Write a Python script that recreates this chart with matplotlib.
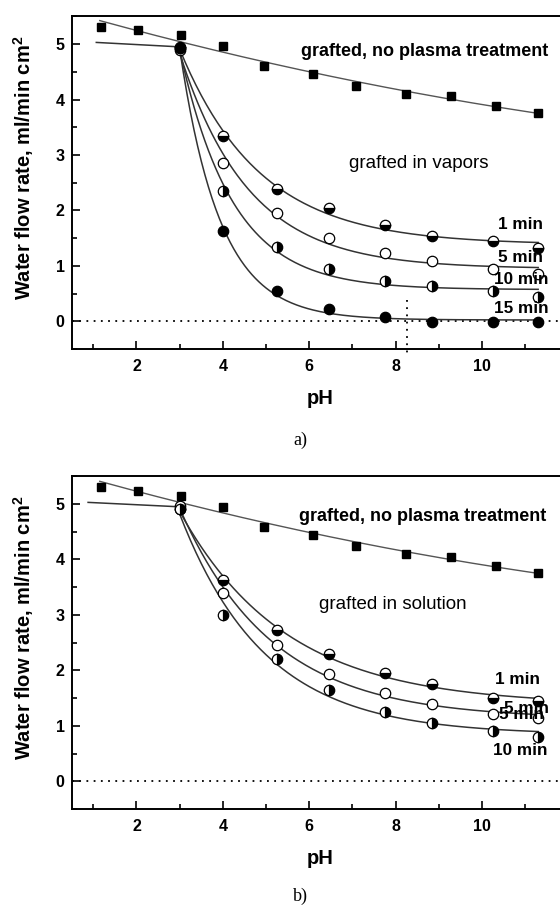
import numpy as np
import matplotlib
matplotlib.use("Agg")
import matplotlib.pyplot as plt

plt.rcParams['font.family'] = ['Liberation Sans', 'DejaVu Sans']
plt.rcParams['mathtext.fontset'] = 'custom'
plt.rcParams['mathtext.bf'] = 'Liberation Sans:bold'
plt.rcParams['mathtext.rm'] = 'Liberation Sans:bold'

# ---- data ----
ph_sq = [1.19, 2.04, 3.04, 4.00, 4.95, 6.09, 7.09, 8.25, 9.29, 10.33, 11.30]
rate_sq_a = [5.31, 5.26, 5.16, 4.96, 4.61, 4.46, 4.25, 4.10, 4.06, 3.89, 3.75]
rate_sq_b = [5.30, 5.24, 5.15, 4.94, 4.59, 4.45, 4.25, 4.09, 4.04, 3.89, 3.75]

ph_c = [3.0, 4.0, 5.25, 6.45, 7.75, 8.85, 10.25, 11.3]

# a) grafted in vapors
vap_1 = [4.95, 3.35, 2.39, 2.04, 1.74, 1.54, 1.44, 1.32]
vap_5 = [4.90, 2.85, 1.96, 1.50, 1.23, 1.08, 0.94, 0.85]
vap_10 = [4.93, 2.35, 1.34, 0.94, 0.73, 0.64, 0.54, 0.43]
vap_15 = [4.93, 1.63, 0.55, 0.23, 0.08, -0.02, -0.02, -0.01]

# b) grafted in solution
sol_1 = [4.91, 3.63, 2.73, 2.29, 1.95, 1.76, 1.51, 1.44]
sol_5 = [4.97, 3.40, 2.45, 1.94, 1.60, 1.40, 1.21, 1.15]
sol_10 = [4.91, 3.00, 2.20, 1.64, 1.25, 1.06, 0.91, 0.80]

# flat part of the curves below pH 3
plateau_ph_a = [1.07, 3.0]
plateau_ph_b = [0.88, 3.0]
plateau_rate = [5.03, 4.95]

# dotted marker line in a)
vline_ph = 8.27
vline_rate = [0.38, -0.65]

labels_min_a = ['1 min', '5 min', '10 min', '15 min']
labels_min_b = ['1 min', '5 min', '10 min']


def exp_fit(x, y):
    # y = c + a*exp(-(x-3)/t), grid search on t
    x = np.asarray(x, float)
    y = np.asarray(y, float)
    best = None
    for t in np.linspace(0.2, 6, 600):
        A = np.column_stack([np.ones_like(x), np.exp(-(x - 3) / t)])
        coef = np.linalg.lstsq(A, y, rcond=None)[0]
        sse = np.sum((A @ coef - y) ** 2)
        if best is None or sse < best[0]:
            best = (sse, t, coef)
    _, t, coef = best
    xs = np.linspace(3, x.max(), 200)
    return xs, coef[0] + coef[1] * np.exp(-(xs - 3) / t)


def style(ax):
    ax.set_xlim(0.5, 12)
    ax.set_ylim(-0.5, 5.5)
    ax.set_xticks([2, 4, 6, 8, 10])
    ax.set_xticks([1, 3, 5, 7, 9, 11], minor=True)
    ax.set_yticks([0, 1, 2, 3, 4, 5])
    ax.set_yticks(np.arange(-0.5, 5.6, 0.5), minor=True)
    ax.tick_params(which='both', direction='in', width=1.2, top=False, right=False)
    ax.tick_params(which='major', length=6)
    ax.tick_params(which='minor', length=3.5)
    ax.tick_params(axis='x', pad=7, labelsize=11.5)
    ax.tick_params(axis='y', pad=5, labelsize=11.5)
    for lab in ax.get_xticklabels() + ax.get_yticklabels():
        lab.set_fontweight('bold')
    for s in ax.spines.values():
        s.set_linewidth(1.4)
    ax.axhline(0, color='black', ls=(0, (1, 3)), lw=1.3)
    ax.set_xlabel('pH', fontsize=14.5, fontweight='bold', va='top')
    ax.xaxis.set_label_coords(0.5, -0.12)
    ax.set_ylabel('Water flow rate, ml/min cm$^{\\mathbf{2}}$', fontsize=14.5, fontweight='bold')
    ax.yaxis.set_label_coords(-0.072, 0.544)


def squares(ax, rates):
    c = np.polyfit(ph_sq, rates, 2)
    xs = np.linspace(1.15, max(ph_sq), 200)
    ax.plot(xs, np.polyval(c, xs), color='#555555', lw=1)
    ax.plot(ph_sq, rates, 's', color='black', ms=5.5)


def circles(ax, rates, fill):
    xs, ys = exp_fit(ph_c, rates)
    ax.plot(xs, ys, color='#333333', lw=1.1, zorder=2)
    kw = dict(ls='none', marker='o', ms=7.5, mec='black', mew=0.9, zorder=3)
    if fill == 'open':
        ax.plot(ph_c, rates, mfc='white', **kw)
    elif fill == 'full':
        ax.plot(ph_c, rates, mfc='black', **kw)
    else:
        ax.plot(ph_c, rates, mfc='black', mfcalt='white', fillstyle=fill, **kw)


fig = plt.figure(figsize=(5.6, 9.09), dpi=100)
ax1 = fig.add_axes([0.128, 0.616, 0.887, 0.366])
ax2 = fig.add_axes([0.128, 0.110, 0.887, 0.366])

# ---- a) ----
style(ax1)
squares(ax1, rate_sq_a)
ax1.plot(plateau_ph_a, plateau_rate, color='#333333', lw=1.1)
for rates, f in zip([vap_1, vap_5, vap_10, vap_15], ['bottom', 'open', 'right', 'full']):
    circles(ax1, rates, f)
ax1.plot([vline_ph, vline_ph], vline_rate, color='black', ls=(0, (1, 3)), lw=1.3, clip_on=False)
ax1.text(8.66, 4.86, 'grafted, no plasma treatment', fontsize=13, fontweight='bold', ha='center', va='center')
ax1.text(8.53, 2.85, 'grafted in vapors', fontsize=13.5, ha='center', va='center')
for lab, y in zip(labels_min_a, [1.74, 1.16, 0.75, 0.23]):
    ax1.text(10.9, y, lab, fontsize=12.3, fontweight='bold', ha='center', va='center')

# ---- b) ----
style(ax2)
squares(ax2, rate_sq_b)
ax2.plot(plateau_ph_b, plateau_rate, color='#333333', lw=1.1)
for rates, f in zip([sol_1, sol_5, sol_10], ['bottom', 'open', 'right']):
    circles(ax2, rates, f)
ax2.text(8.63, 4.77, 'grafted, no plasma treatment', fontsize=13, fontweight='bold', ha='center', va='center')
ax2.text(7.94, 3.19, 'grafted in solution', fontsize=13.5, ha='center', va='center')
ax2.text(10.82, 1.83, labels_min_b[0], fontsize=12.3, fontweight='bold', ha='center', va='center')
# the reference shows "5 min" printed twice, slightly offset
ax2.text(11.04, 1.31, labels_min_b[1], fontsize=12.3, fontweight='bold', ha='center', va='center')
ax2.text(10.92, 1.21, labels_min_b[1], fontsize=12.3, fontweight='bold', ha='center', va='center')
ax2.text(10.88, 0.55, labels_min_b[2], fontsize=12.3, fontweight='bold', ha='center', va='center')

fig.text(300 / 560, 1 - 440 / 909, 'a)', family='Liberation Serif', fontsize=13, ha='center', va='center')
fig.text(300 / 560, 1 - 896 / 909, 'b)', family='Liberation Serif', fontsize=13, ha='center', va='center')

fig.savefig('out.png', dpi=100)
